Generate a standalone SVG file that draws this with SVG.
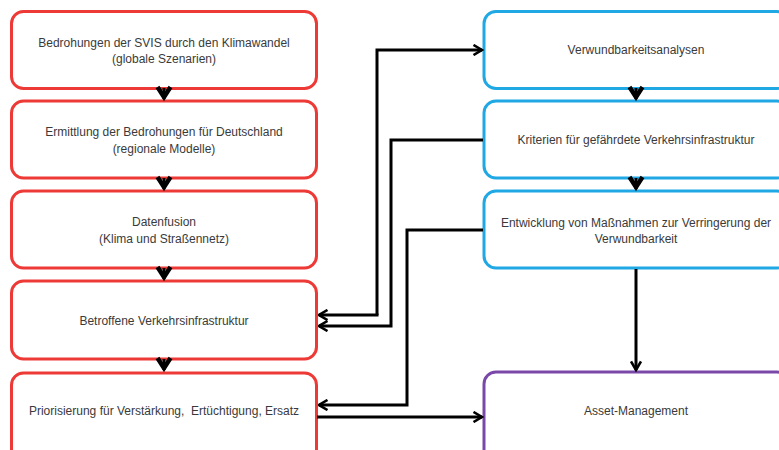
<svg xmlns="http://www.w3.org/2000/svg" width="779" height="450" viewBox="0 0 779 450">
<defs>
<marker id="arr" viewBox="0 0 12 12" refX="10.5" refY="6" markerWidth="12" markerHeight="12" markerUnits="userSpaceOnUse" orient="auto">
<path d="M2,1 L10.5,6 L2,11" fill="none" stroke="#000" stroke-width="2.6" stroke-linejoin="miter"/>
</marker>
</defs>
<style>
.box{fill:#fff;stroke-width:3}
.red{stroke:#ee3a36}
.blue{stroke:#1fa8e3}
.purple{stroke:#7a48a8}
text{font-family:"Liberation Sans",Arial,sans-serif;font-size:12px;fill:#3a3a3a;text-anchor:middle}
.c{fill:none;stroke:#000;stroke-width:3}
.ch{fill:none;stroke:#000;stroke-width:4.5;stroke-linejoin:miter}
</style>
<rect width="779" height="450" fill="#fff"/>
<g id="n1"><rect class="box red" x="11.5" y="11.5" width="305" height="77" rx="12"/><text x="164" y="47">Bedrohungen der SVIS durch den Klimawandel</text><text x="164" y="63">(globale Szenarien)</text></g>
<g id="n2"><rect class="box red" x="11.5" y="101" width="305" height="77" rx="12"/><text x="164" y="136">Ermittlung der Bedrohungen für Deutschland</text><text x="164" y="153">(regionale Modelle)</text></g>
<g id="n3"><rect class="box red" x="11.5" y="191" width="305" height="77" rx="12"/><text x="164" y="226">Datenfusion</text><text x="164" y="243">(Klima und Straßennetz)</text></g>
<g id="n4"><rect class="box red" x="11.5" y="281" width="305" height="78" rx="12"/><text x="164" y="325">Betroffene Verkehrsinfrastruktur</text></g>
<g id="n5"><rect class="box red" x="11.5" y="373" width="305" height="90" rx="12"/><text x="164" y="415" xml:space="preserve" style="white-space:pre">Priorisierung für Verstärkung,  Ertüchtigung, Ersatz</text></g>
<g id="n6"><rect class="box blue" x="484" y="11.5" width="305" height="77" rx="12"/><text x="636" y="54">Verwundbarkeitsanalysen</text></g>
<g id="n7"><rect class="box blue" x="484" y="101" width="305" height="77" rx="12"/><text x="636" y="144">Kriterien für gefährdete Verkehrsinfrastruktur</text></g>
<g id="n8"><rect class="box blue" x="484" y="191" width="305" height="77" rx="12"/><text x="636" y="227">Entwicklung von Maßnahmen zur Verringerung der</text><text x="636" y="243">Verwundbarkeit</text></g>
<g id="n9"><rect class="box purple" x="484" y="372" width="305" height="90" rx="12"/><text x="636" y="415">Asset-Management</text></g>
<g id="connectors">
<path class="c" d="M164,88 V99"/><path class="ch" d="M157.5,87 L164,97 L170.5,87"/>
<path class="c" d="M164,178 V189"/><path class="ch" d="M157.5,177 L164,187 L170.5,177"/>
<path class="c" d="M164,268 V279"/><path class="ch" d="M157.5,267 L164,277 L170.5,267"/>
<path class="c" d="M164,359 V370"/><path class="ch" d="M157.5,358 L164,368 L170.5,358"/>
<path class="c" d="M636,88 V99"/><path class="ch" d="M629.5,87 L636,97 L642.5,87"/>
<path class="c" d="M636,178 V189"/><path class="ch" d="M629.5,177 L636,187 L642.5,177"/>
<path class="c" d="M377,315 V50 H482" marker-end="url(#arr)"/>
<path class="c" d="M378.5,315 H319" marker-end="url(#arr)"/>
<path class="c" d="M483,140 H391 V326 H319" marker-end="url(#arr)"/>
<path class="c" d="M483,230 H407 V405 H319" marker-end="url(#arr)"/>
<path class="c" d="M317,417 H482" marker-end="url(#arr)"/>
<path class="c" d="M636,269 V370" marker-end="url(#arr)"/>
</g>
</svg>
